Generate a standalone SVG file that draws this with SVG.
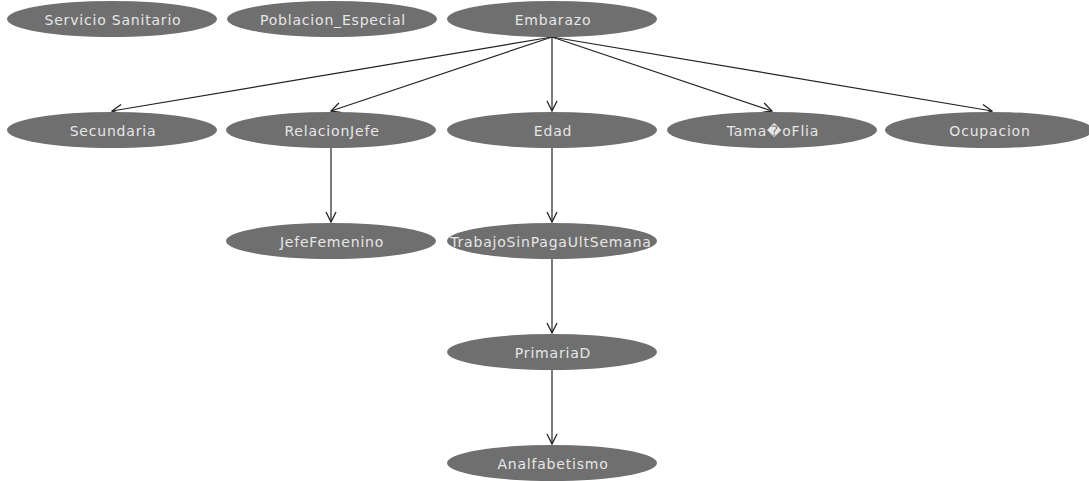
<svg xmlns="http://www.w3.org/2000/svg" width="1089" height="481" viewBox="0 0 1089 481">
  <defs>
    <marker id="arrow" viewBox="0 0 12 12" refX="11" refY="6" markerWidth="12" markerHeight="12" markerUnits="userSpaceOnUse" orient="auto">
      <path d="M1,1 L11,6 L1,11" fill="none" stroke="#222" stroke-width="1.3"/>
    </marker>
    <style>
      .node ellipse { fill: #6f6f6f; }
      .node text { font-family: "DejaVu Sans", sans-serif; font-size: 14px; letter-spacing: 0.8px; fill: #e6e6e6; text-anchor: middle; dominant-baseline: central; }
      #edges line { stroke: #222; stroke-width: 1.2; marker-end: url(#arrow); }
    </style>
  </defs>
  <rect width="1089" height="481" fill="#ffffff"/>

  <g id="edges">
    <line x1="552" y1="37" x2="112" y2="111"/>
    <line x1="552" y1="37" x2="331" y2="111"/>
    <line x1="552" y1="37" x2="552" y2="111"/>
    <line x1="552" y1="37" x2="772" y2="111"/>
    <line x1="552" y1="37" x2="992" y2="111"/>
    <line x1="331" y1="148" x2="331" y2="222"/>
    <line x1="552" y1="148" x2="552" y2="222"/>
    <line x1="552" y1="259" x2="552" y2="333"/>
    <line x1="552" y1="370" x2="552" y2="444"/>
  </g>

  <g id="servicio-sanitario" class="node"><ellipse cx="112" cy="19" rx="105" ry="18"/><text x="113" y="20">Servicio Sanitario</text></g>
  <g id="poblacion-especial" class="node"><ellipse cx="332" cy="19" rx="105" ry="18"/><text x="333" y="20">Poblacion_Especial</text></g>
  <g id="embarazo" class="node"><ellipse cx="552" cy="19" rx="105" ry="18"/><text x="553" y="20">Embarazo</text></g>

  <g id="secundaria" class="node"><ellipse cx="112" cy="130" rx="105" ry="18"/><text x="113" y="131">Secundaria</text></g>
  <g id="relacion-jefe" class="node"><ellipse cx="331" cy="130" rx="105" ry="18"/><text x="332" y="131">RelacionJefe</text></g>
  <g id="edad" class="node"><ellipse cx="552" cy="130" rx="105" ry="18"/><text x="553" y="131">Edad</text></g>
  <g id="tamano-flia" class="node"><ellipse cx="772" cy="130" rx="105" ry="18"/><text x="773" y="131">Tama&#xFFFD;oFlia</text></g>
  <g id="ocupacion" class="node"><ellipse cx="989" cy="130" rx="104" ry="18"/><text x="990" y="131">Ocupacion</text></g>

  <g id="jefe-femenino" class="node"><ellipse cx="331" cy="241" rx="105" ry="18"/><text x="332" y="242">JefeFemenino</text></g>
  <g id="trabajo-sin-paga" class="node"><ellipse cx="552" cy="241" rx="105" ry="18"/><text x="551" y="242">TrabajoSinPagaUltSemana</text></g>

  <g id="primaria-d" class="node"><ellipse cx="552" cy="352" rx="105" ry="18"/><text x="553" y="353">PrimariaD</text></g>
  <g id="analfabetismo" class="node"><ellipse cx="552" cy="463" rx="105" ry="18"/><text x="553" y="464">Analfabetismo</text></g>
</svg>
